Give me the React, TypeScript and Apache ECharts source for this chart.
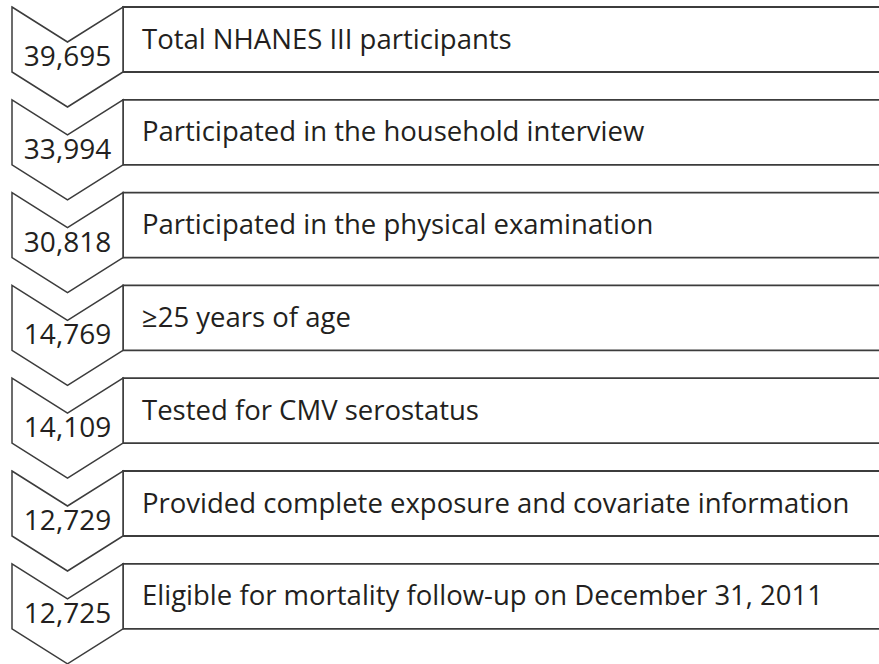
import React, { useEffect, useRef } from "react";
import * as echarts from "echarts";

const counts = ["39,695", "33,994", "30,818", "14,769", "14,109", "12,729", "12,725"];
const steps = [
  "Total NHANES III participants",
  "Participated in the household interview",
  "Participated in the physical examination",
  "≥25 years of age",
  "Tested for CMV serostatus",
  "Provided complete exposure and covariate information",
  "Eligible for mortality follow-up on December 31, 2011",
];

const W = 879;
const H = 664;

export default function App() {
  const ref = useRef<HTMLDivElement>(null);
  useEffect(() => {
    document.body.style.margin = "0";
    const chart = echarts.init(ref.current!, undefined, { renderer: "svg" });
    const rows = counts.map((c, i) => [i, c, steps[i]]);
    const lineColor = "#3c3c3c";
    const textColor = "#231f20";
    const font = "'Open Sans', sans-serif";
    chart.setOption({
      animation: false,
      backgroundColor: "#ffffff",
      grid: { left: 0, right: 0, top: 0, bottom: 0 },
      xAxis: { type: "value", min: 0, max: W, show: false },
      yAxis: { type: "value", min: 0, max: H, inverse: true, show: false },
      series: [
        {
          type: "custom",
          data: rows,
          encode: { x: 0, y: 0 },
          clip: false,
          renderItem: (params: any, api: any) => {
            const idx = params.dataIndex;
            const top = 7 + idx * 92.8;
            const p = (x: number, y: number) => api.coord([x, y]);
            const L = 12, M = 67.5, R = 123, notch = 35, h = 65;
            const chevron = [
              p(L, top), p(M, top + notch), p(R, top), p(R, top + h),
              p(M, top + h + notch), p(L, top + h),
            ];
            const tl = p(R, top);
            const br = p(W + 5, top + h);
            const numPos = p(M, top + 48);
            const txtPos = p(142, top + 31);
            return {
              type: "group",
              children: [
                {
                  type: "rect",
                  shape: { x: tl[0], y: tl[1], width: br[0] - tl[0], height: br[1] - tl[1] },
                  style: { fill: "#fff", stroke: lineColor, lineWidth: 1.8 },
                },
                {
                  type: "polygon",
                  shape: { points: chevron },
                  style: { fill: "#fff", stroke: lineColor, lineWidth: 1.5 },
                },
                {
                  type: "text",
                  x: numPos[0],
                  y: numPos[1],
                  style: {
                    text: counts[idx],
                    fill: textColor,
                    font: `28px ${font}`,
                    align: "center",
                    verticalAlign: "middle",
                  },
                },
                {
                  type: "text",
                  x: txtPos[0],
                  y: txtPos[1],
                  style: {
                    text: steps[idx],
                    fill: textColor,
                    font: `27.5px ${font}`,
                    align: "left",
                    verticalAlign: "middle",
                  },
                },
              ],
            };
          },
        },
      ],
    });
    return () => chart.dispose();
  }, []);
  return <div ref={ref} style={{ width: W, height: H, position: "absolute", left: 0, top: 0 }} />;
}
